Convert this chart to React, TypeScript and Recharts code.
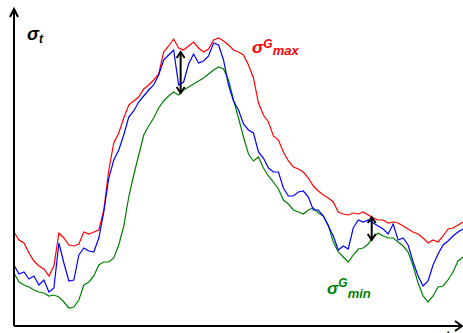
import React from 'react';
import { LineChart, Line, XAxis, YAxis, ReferenceLine } from 'recharts';

// sample index along the time axis
const steps = Array.from({ length: 91 }, (_, i) => i);

// upper bound sigma^G_max
const sigmaMax = [
  94, 86, 83, 73, 65, 60, 57, 50, 60, 93, 88, 81, 80, 82, 94, 92, 94, 96, 116, 156,
  183, 193, 208, 221, 225, 229, 237, 241, 246, 252, 274, 280, 287, 278, 276, 280, 284, 278, 274, 277,
  286, 288, 285, 281, 276, 274, 271, 261, 248, 223, 211, 204, 190, 186, 174, 165, 159, 157, 154, 148,
  140, 135, 131, 128, 124, 114, 112, 111, 113, 112, 114, 111, 108, 106, 106, 103, 104, 103, 100, 97,
  94, 92, 88, 83, 86, 84, 90, 97, 98, 101, 104,
];

// observed sigma_t
const sigmaT = [
  61, 52, 54, 47, 50, 41, 46, 34, 38, 83, 63, 45, 46, 71, 78, 75, 74, 88, 114, 148,
  166, 176, 191, 209, 215, 224, 230, 236, 241, 251, 266, 271, 276, 241, 244, 262, 272, 263, 265, 270,
  283, 281, 266, 241, 225, 216, 202, 196, 193, 174, 168, 158, 154, 154, 138, 130, 130, 134, 135, 129,
  116, 116, 110, 100, 90, 76, 80, 77, 98, 106, 104, 106, 103, 100, 97, 92, 102, 86, 88, 81,
  64, 50, 40, 45, 61, 72, 81, 85, 90, 94, 97,
];

// lower bound sigma^G_min
const sigmaMin = [
  53, 44, 41, 39, 36, 34, 33, 30, 31, 29, 24, 18, 19, 26, 41, 44, 50, 61, 64, 64,
  68, 81, 100, 129, 151, 171, 191, 200, 208, 218, 225, 230, 234, 231, 236, 239, 242, 245, 248, 252,
  256, 259, 257, 246, 226, 208, 189, 172, 165, 169, 158, 150, 144, 137, 126, 122, 116, 114, 112, 116,
  118, 113, 110, 101, 84, 74, 69, 64, 71, 77, 78, 82, 89, 93, 90, 88, 88, 84, 80, 74,
  60, 43, 30, 24, 30, 39, 40, 46, 54, 65, 69,
];

// spread markers: [t, top, bottom]
const spreads: [number, number, number][] = [
  [33.4, 274, 233],
  [71.7, 109, 86],
];

const data = steps.map((t, i) => ({ t, max: sigmaMax[i], obs: sigmaT[i], min: sigmaMin[i] }));

const DoubleArrow = (props: any) => {
  const { x1, y1, x2, y2 } = props;
  const top = Math.min(y1, y2);
  const bot = Math.max(y1, y2);
  return (
    <g stroke="#000" strokeWidth={2} fill="none">
      <line x1={x1} y1={top} x2={x2} y2={bot} />
      <polyline points={`${x1 - 4},${top + 6} ${x1},${top} ${x1 + 4},${top + 6}`} />
      <polyline points={`${x1 - 4},${bot - 6} ${x1},${bot} ${x1 + 4},${bot - 6}`} />
    </g>
  );
};

const labelFont = { fontFamily: 'Liberation Sans, Arial, sans-serif', fontWeight: 700, fontStyle: 'italic' };

export default function App() {
  return (
    <div style={{ position: 'absolute', left: 0, top: 0, width: 463, height: 333, background: '#fff' }}>
      <LineChart width={463} height={333} data={data} margin={{ top: 10, right: 0, bottom: 7, left: 14 }}>
        <XAxis dataKey="t" type="number" domain={[0, 90]} hide />
        <YAxis type="number" domain={[0, 316]} hide />
        <Line type="linear" dataKey="min" stroke="#008000" strokeWidth={1.2} dot={false} isAnimationActive={false} />
        <Line type="linear" dataKey="max" stroke="#ff0000" strokeWidth={1.2} dot={false} isAnimationActive={false} />
        <Line type="linear" dataKey="obs" stroke="#0000ff" strokeWidth={1.2} dot={false} isAnimationActive={false} />
        {spreads.map(([t, a, b], i) => (
          <ReferenceLine
            key={i}
            segment={[{ x: t, y: a }, { x: t, y: b }]}
            shape={DoubleArrow}
            ifOverflow="visible"
          />
        ))}
      </LineChart>
      <svg width={463} height={333} style={{ position: 'absolute', left: 0, top: 0, pointerEvents: 'none' }}>
        <g stroke="#000" strokeWidth={2} fill="none">
          <line x1={14} y1={326} x2={14} y2={9} />
          <polyline points="10,17 14,9 18,17" />
          <line x1={14} y1={326} x2={462} y2={326} />
          <polyline points="455,321 462,326 455,331" />
        </g>
        <text x={27} y={40} fontSize={18} fill="#000" style={labelFont}>
          σ<tspan fontSize={12} dy={3}>t</tspan>
        </text>
        <text x={252} y={53} fontSize={17} fill="#ff0000" style={labelFont}>
          σ<tspan fontSize={12} dy={-5}>G</tspan>
          <tspan fontSize={13} dy={7}>max</tspan>
        </text>
        <text x={327} y={294} fontSize={17} fill="#008000" style={labelFont}>
          σ<tspan fontSize={12} dy={-7}>G</tspan>
          <tspan fontSize={13} dy={11}>min</tspan>
        </text>
        <text x={444} y={344} fontSize={18} fill="#000" style={labelFont}>t</text>
      </svg>
    </div>
  );
}
